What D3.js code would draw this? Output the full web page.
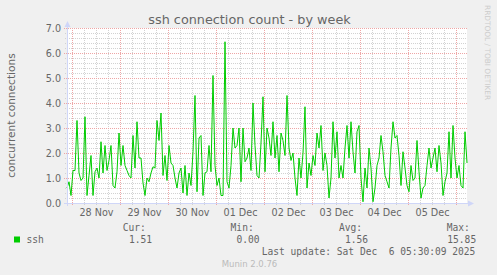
<!DOCTYPE html>
<html><head><meta charset="utf-8">
<script src="https://cdn.jsdelivr.net/npm/d3@7"></script>
<style>body{margin:0;background:#f0f0f0}svg{display:block}</style>
</head><body>
<script>
const title = "ssh connection count - by week";
const yLabel = "concurrent connections";
const seriesName = "ssh";
const startTime = Date.UTC(2025, 10, 27, 21, 30);
const endTime = Date.UTC(2025, 11, 6, 5, 30);
const stepHours = 1;
const sshValues = [
  0.6, 0.85, 0.3, 1.3, 1.3, 3.3, 1.2, 0.9, 1.0, 3.45, 0.3, 1.1, 1.9, 0.3, 1.25, 1.4, 1.0, 2.45, 1.2, 2.3,
  1.3, 1.7, 2.3, 0.7, 0.6, 1.25, 2.8, 1.5, 2.3, 1.5, 1.3, 1.1, 1.0, 2.7,
  1.4, 3.25, 1.8, 1.8, 0.8, 0.3, 1.0, 0.85, 1.2, 1.45, 1.4, 3.3, 2.5, 3.6, 1.1, 1.9, 0.9, 2.3, 1.6, 1.5,
  1.0, 0.6, 1.2, 1.4, 0.4, 1.5, 0.3, 1.2, 0.7, 2.05, 4.3, 0.45, 2.6, 2.7,
  0.3, 1.2, 1.25, 2.3, 1.25, 5.1, 1.5, 0.7, 1.0, 0.3, 0.3, 6.45, 0.85, 0.6, 1.5, 3.0, 2.2, 2.3, 3.0, 0.85,
  3.0, 1.65, 1.8, 2.2, 1.3, 4.0, 2.3, 1.1, 1.0, 2.4, 4.25, 1.25, 3.0,
  2.6, 1.9, 3.25, 1.8, 2.7, 1.25, 2.8, 2.5, 1.9, 4.3, 2.2, 1.7, 2.0, 1.0, 0.3, 1.8, 1.0, 2.0, 3.85, 0.6,
  1.6, 1.1, 1.9, 1.5, 2.8, 2.2, 3.1, 1.3, 2.0, 1.5, 0.2, 1.0, 3.25, 1.8,
  2.85, 1.0, 1.5, 1.0, 2.2, 3.1, 1.8, 3.25, 2.05, 1.2, 2.85, 3.1, 1.0, 0.05, 1.4, 0.6, 2.2, 1.4, 0.05, 0.6,
  1.5, 1.8, 2.7, 2.05, 1.1, 0.85, 0.6, 2.2, 3.25, 2.6, 2.7, 1.9, 0.7, 2.05,
  1.4, 0.7, 0.45, 1.5, 0.9, 1.0, 2.5, 1.25, 0.2, 0.6, 0.7, 1.5, 2.2, 1.4, 1.8, 2.2, 1.25, 2.3, 1.6, 0.3,
  0.85, 1.2, 2.85, 1.0, 3.1, 1.8, 1.0, 1.5, 0.7, 0.6, 2.85, 1.6
];
const yMajorTicks = [0, 1, 2, 3, 4, 5, 6, 7];
const yMinorStep = 0.2;
const legendLabels = ["Cur:", "Min:", "Avg:", "Max:"];
const legendValues = ["1.51", "0.00", "1.56", "15.85"];
const lastUpdate = "Last update: Sat Dec  6 05:30:09 2025";
const version = "Munin 2.0.76";
const watermark = "RRDTOOL / TOBI OETIKER";

const W = 497, H = 275;
const L = 67, R = 467, T = 28, B = 203;
const green = "#00cc00", fontCol = "#666666", axisCol = "#cfd6f8";
const sans = "'DejaVu Sans', sans-serif", mono = "'DejaVu Sans Mono', monospace";

const svg = d3.select("body").append("svg").attr("width", W).attr("height", H);
svg.append("rect").attr("width", W).attr("height", H).attr("fill", "#f0f0f0");
svg.append("rect").attr("x", L).attr("y", T).attr("width", R - L).attr("height", B - T).attr("fill", "#ffffff");

const x = d3.scaleUtc().domain([startTime, endTime]).range([L, R]);
const y = d3.scaleLinear().domain([0, 7]).range([B, T]);

const data = sshValues.map((v, i) => ({ t: new Date(startTime + i * stepHours * 3600e3), v }));

// grid
const g = svg.append("g");
const minorX = d3.utcHour.every(6).range(new Date(startTime), new Date(endTime));
const majorX = d3.utcDay.range(new Date(startTime), new Date(endTime));
const minorY = d3.range(0, 7.0001, yMinorStep).filter(v => Math.abs(v - Math.round(v)) > 1e-6);
const minorCol = "#d2d2d2", majorCol = "#eea6a6";

g.selectAll(".mx").data(minorX.filter(d => d.getUTCHours() !== 0)).join("line")
  .attr("x1", d => Math.round(x(d)) + 0.5).attr("x2", d => Math.round(x(d)) + 0.5)
  .attr("y1", T).attr("y2", B + 2).attr("stroke", minorCol).attr("stroke-dasharray", "1,1");
g.selectAll(".my").data(minorY).join("line")
  .attr("x1", L - 2).attr("x2", R).attr("y1", d => Math.round(y(d)) + 0.5).attr("y2", d => Math.round(y(d)) + 0.5)
  .attr("stroke", minorCol).attr("stroke-dasharray", "1,1");
g.selectAll(".Mx").data(majorX).join("line")
  .attr("x1", d => Math.round(x(d)) + 0.5).attr("x2", d => Math.round(x(d)) + 0.5)
  .attr("y1", T).attr("y2", B + 3).attr("stroke", majorCol).attr("stroke-dasharray", "1,1");
g.selectAll(".My").data(yMajorTicks).join("line")
  .attr("x1", L - 3).attr("x2", R).attr("y1", d => Math.round(y(d)) + 0.5).attr("y2", d => Math.round(y(d)) + 0.5)
  .attr("stroke", majorCol).attr("stroke-dasharray", "1,1");

// data line
svg.append("path").datum(data)
  .attr("fill", "none").attr("stroke", green).attr("stroke-width", 1)
  .attr("d", d3.line().x(d => x(d.t)).y(d => y(d.v)));

// axes lines + arrows
svg.append("line").attr("x1", L + 0.5).attr("x2", L + 0.5).attr("y1", B + 3).attr("y2", T - 4).attr("stroke", axisCol);
svg.append("line").attr("x1", L - 3).attr("x2", R + 3).attr("y1", B + 0.5).attr("y2", B + 0.5).attr("stroke", axisCol);
svg.append("path").attr("d", `M${L - 2.5},${T - 1}L${L + 3.5},${T - 1}L${L + 0.5},${T - 7}Z`).attr("fill", axisCol);
svg.append("path").attr("d", `M${R + 1},${B - 2.5}L${R + 1},${B + 3.5}L${R + 7},${B + 0.5}Z`).attr("fill", axisCol);

// x axis labels (noon of each day)
const labelDays = d3.utcDay.range(new Date(startTime), new Date(endTime))
  .map(d => new Date(+d + 12 * 3600e3)).filter(d => +d < endTime);
const xAxis = d3.axisBottom(x).tickValues(labelDays).tickFormat(d3.utcFormat("%d %b")).tickSize(0).tickPadding(6);
const xa = svg.append("g").attr("transform", `translate(0,${B})`).call(xAxis);
xa.select(".domain").remove();
xa.selectAll("text").attr("font-family", sans).attr("font-size", 9.6).attr("fill", fontCol);

// y axis labels
const yAxis = d3.axisLeft(y).tickValues(yMajorTicks).tickFormat(d3.format(".1f")).tickSize(0).tickPadding(6);
const ya = svg.append("g").attr("transform", `translate(${L},0)`).call(yAxis);
ya.select(".domain").remove();
ya.selectAll("text").attr("font-family", sans).attr("font-size", 9.6).attr("fill", fontCol);

// title & labels
svg.append("text").attr("x", 249.5).attr("y", 24).attr("text-anchor", "middle")
  .attr("font-family", sans).attr("font-size", 12.8).attr("fill", fontCol).text(title);
svg.append("text").attr("transform", `translate(15,${(T + B) / 2}) rotate(-90)`).attr("text-anchor", "middle")
  .attr("font-family", sans).attr("font-size", 10.6).attr("fill", fontCol).text(yLabel);
svg.append("text").attr("transform", `translate(485,5) rotate(90)`).attr("text-anchor", "start")
  .attr("font-family", sans).attr("font-size", 7.4).attr("fill", "#cccccc").text(watermark);

// legend
svg.append("rect").attr("x", 14).attr("y", 236.5).attr("width", 6).attr("height", 6).attr("fill", green);
svg.append("text").attr("x", 26.5).attr("y", 243).attr("font-family", mono).attr("font-size", 9.6).attr("fill", fontCol).text(seriesName);
const labelX = [122.7, 230.6, 339, 446.7];
const valueX = [129, 236.5, 345, 447.3];
svg.selectAll(".ll").data(legendLabels).join("text")
  .attr("x", (d, i) => labelX[i]).attr("y", 231).attr("font-family", mono).attr("font-size", 9.6).attr("fill", fontCol).text(d => d);
svg.selectAll(".lv").data(legendValues).join("text")
  .attr("x", (d, i) => valueX[i]).attr("y", 243).attr("font-family", mono).attr("font-size", 9.6).attr("fill", fontCol).text(d => d);
svg.append("text").attr("x", 261.7).attr("y", 255).attr("xml:space", "preserve").style("white-space", "pre")
  .attr("font-family", mono).attr("font-size", 9.6).attr("fill", fontCol).text(lastUpdate);
svg.append("text").attr("x", 249.5).attr("y", 267).attr("text-anchor", "middle")
  .attr("font-family", sans).attr("font-size", 8.5).attr("fill", "#bbbbbb").text(version);
</script>
</body></html>
